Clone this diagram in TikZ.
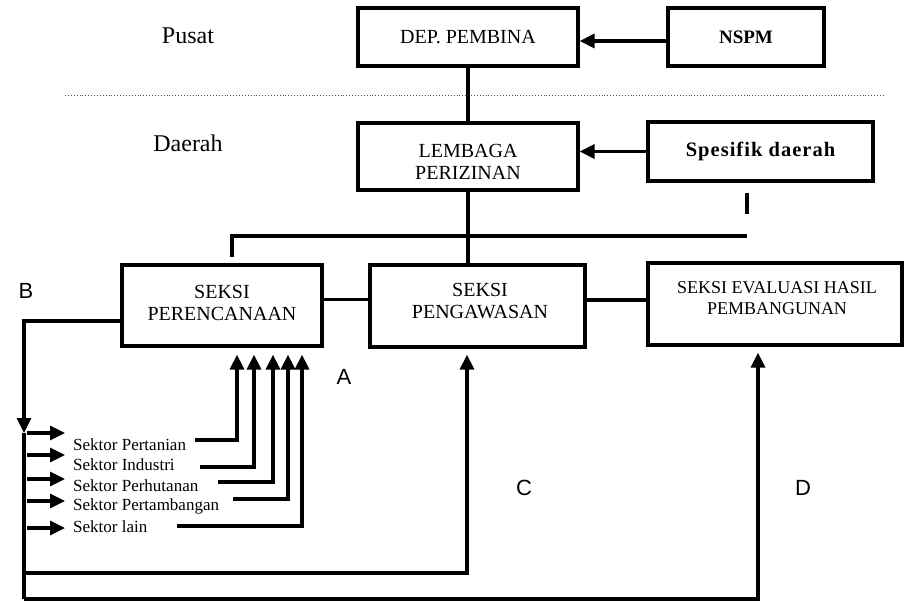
\documentclass[tikz,border=0pt]{standalone}
\usepackage{fontspec}
\setmainfont{Liberation Serif}
\newfontfamily\labsans{Liberation Sans}
\newfontfamily\spacedbold[LetterSpace=5,BoldFont={Liberation Serif Bold}]{Liberation Serif}
\usetikzlibrary{arrows.meta}
\tikzset{
  boxnode/.style={draw, line width=3.2pt, inner sep=0pt, align=center},
  conn/.style={line width=3.2pt},
  arr/.style={-{Triangle[width=14pt,length=15pt]}},
  boxtext/.style={font=\fontsize{20}{22}\selectfont, align=center, inner sep=0pt},
  smalltext/.style={font=\fontsize{18}{21}\selectfont, align=center, inner sep=0pt},
  sektortext/.style={font=\fontsize{17}{20}\selectfont, anchor=west, inner sep=0pt},
  leveltext/.style={font=\fontsize{24}{26}\selectfont, inner sep=0pt},
  letter/.style={font=\labsans\fontsize{22}{24}\selectfont, inner sep=0pt},
  dotline/.style={line width=0.9pt, dotted, black!70}
}
\begin{document}
\begin{tikzpicture}[x=1pt,y=-1pt]
\useasboundingbox (0,0) rectangle (909,604);
\fill[white] (0,0) rectangle (909,604);

% boxes
\node[boxnode, minimum width=220pt, minimum height=58pt] (dep) at (468,37) {};
\node[boxtext] (dept) at (468,37) {DEP. PEMBINA};
\node[boxnode, minimum width=156pt, minimum height=58pt] (nspm) at (746,37) {};
\node[boxtext, font=\bfseries\fontsize{19}{20}\selectfont] (nspmt) at (746,37) {NSPM};
\node[boxnode, minimum width=220pt, minimum height=67pt] (lem) at (468,156.5) {};
\node[boxtext] (lemt) at (468,162) {LEMBAGA\\PERIZINAN};
\node[boxnode, minimum width=225pt, minimum height=59pt] (spes) at (760.5,151.5) {};
\node[boxtext, font=\spacedbold\bfseries\fontsize{20.5}{22}\selectfont] (spest) at (760.5,151.5) {Spesifik daerah};
\node[boxnode, minimum width=200pt, minimum height=81pt] (per) at (222,305.5) {};
\node[boxtext] (pert) at (222,302.5) {SEKSI\\PERENCANAAN};
\node[boxnode, minimum width=215pt, minimum height=82pt] (peng) at (477.5,306) {};
\node[boxtext] (pengt) at (480,301.5) {SEKSI\\PENGAWASAN};
\node[boxnode, minimum width=254pt, minimum height=82pt] (eval) at (775,304) {};
\node[smalltext] (evalt) at (777,298.5) {SEKSI EVALUASI HASIL\\PEMBANGUNAN};

% level labels
\node[leveltext] (pusat) at (188,36) {Pusat};
\node[leveltext] (daerah) at (188,143) {Daerah};
\coordinate (dl) at (65,95);
\coordinate (dr) at (885,95);
\draw[dotline] (dl) -- (dr);

% letters
\node[letter] (la) at (344,377) {A};
\node[letter] (lb) at (26,291) {B};
\node[letter] (lc) at (524,488) {C};
\node[letter] (ld) at (803,488) {D};

% top connectors
\draw[conn, arr] ([yshift=-4pt]nspm.west) -- ([yshift=-4pt]nspm.west -| dep.east);
\draw[conn] (dep.south) -- (lem.north);
\draw[conn, arr] (spes.west) -- (spes.west -| lem.east);
\coordinate (tk1) at (747,193);
\coordinate (tk2) at (747,214);
\draw[conn] (tk1) -- (tk2);
\coordinate (hld) at (232,257);
\coordinate (hl) at (232,236);
\coordinate (hr) at (747,236);
\draw[conn] (hld) -- (hl) -- (hr);
\draw[conn] (lem.south) -- (lem.south |- peng.north);
\draw[conn] ([yshift=6pt]per.east) -- ([yshift=6pt]per.east -| peng.west);
\draw[conn] ([yshift=6pt]peng.east) -- ([yshift=6pt]peng.east -| eval.west);

% left loop
\coordinate (bc) at (24,321);
\coordinate (bd) at (24,433);
\coordinate (cc) at (24,573);
\coordinate (bb) at (24,599);
\draw[conn, arr] (per.west |- bc) -- (bc) -- (bd);
\draw[conn] (bd) -- (bb);
\draw[conn, arr, shorten >=6pt] (cc) -| ([xshift=-10.5pt]peng.south);
\draw[conn, arr, shorten >=6pt] (bb) -| ([xshift=-17pt]eval.south);

% sektor texts
\node[sektortext] (s1) at (73,445) {Sektor Pertanian};
\node[sektortext] (s2) at (73,465) {Sektor Industri};
\node[sektortext] (s3) at (73,486) {Sektor Perhutanan};
\node[sektortext] (s4) at (73,506) {Sektor Pertambangan};
\node[sektortext] (s5) at (73,527) {Sektor lain};

% sektor input arrows
\coordinate (a1) at (27,433);
\coordinate (a2) at (27,455);
\coordinate (a3) at (27,479);
\coordinate (a4) at (27,501);
\coordinate (a5) at (27,528);
\foreach \i in {1,...,5}{
  \draw[conn, arr, shorten >=8pt] (a\i) -- (a\i -| s\i.west);
}

% sektor output lines to perencanaan
\coordinate (e1) at (195,440);
\coordinate (e2) at (200,467);
\coordinate (e3) at (218,482);
\coordinate (e4) at (233,499);
\coordinate (e5) at (177,526);
\draw[conn, arr, shorten >=7pt] (e1) -| ([xshift=15pt]per.south);
\draw[conn, arr, shorten >=7pt] (e2) -| ([xshift=32pt]per.south);
\draw[conn, arr, shorten >=7pt] (e3) -| ([xshift=51pt]per.south);
\draw[conn, arr, shorten >=7pt] (e4) -| ([xshift=66pt]per.south);
\draw[conn, arr, shorten >=7pt] (e5) -| ([xshift=80pt]per.south);
\end{tikzpicture}
\end{document}
